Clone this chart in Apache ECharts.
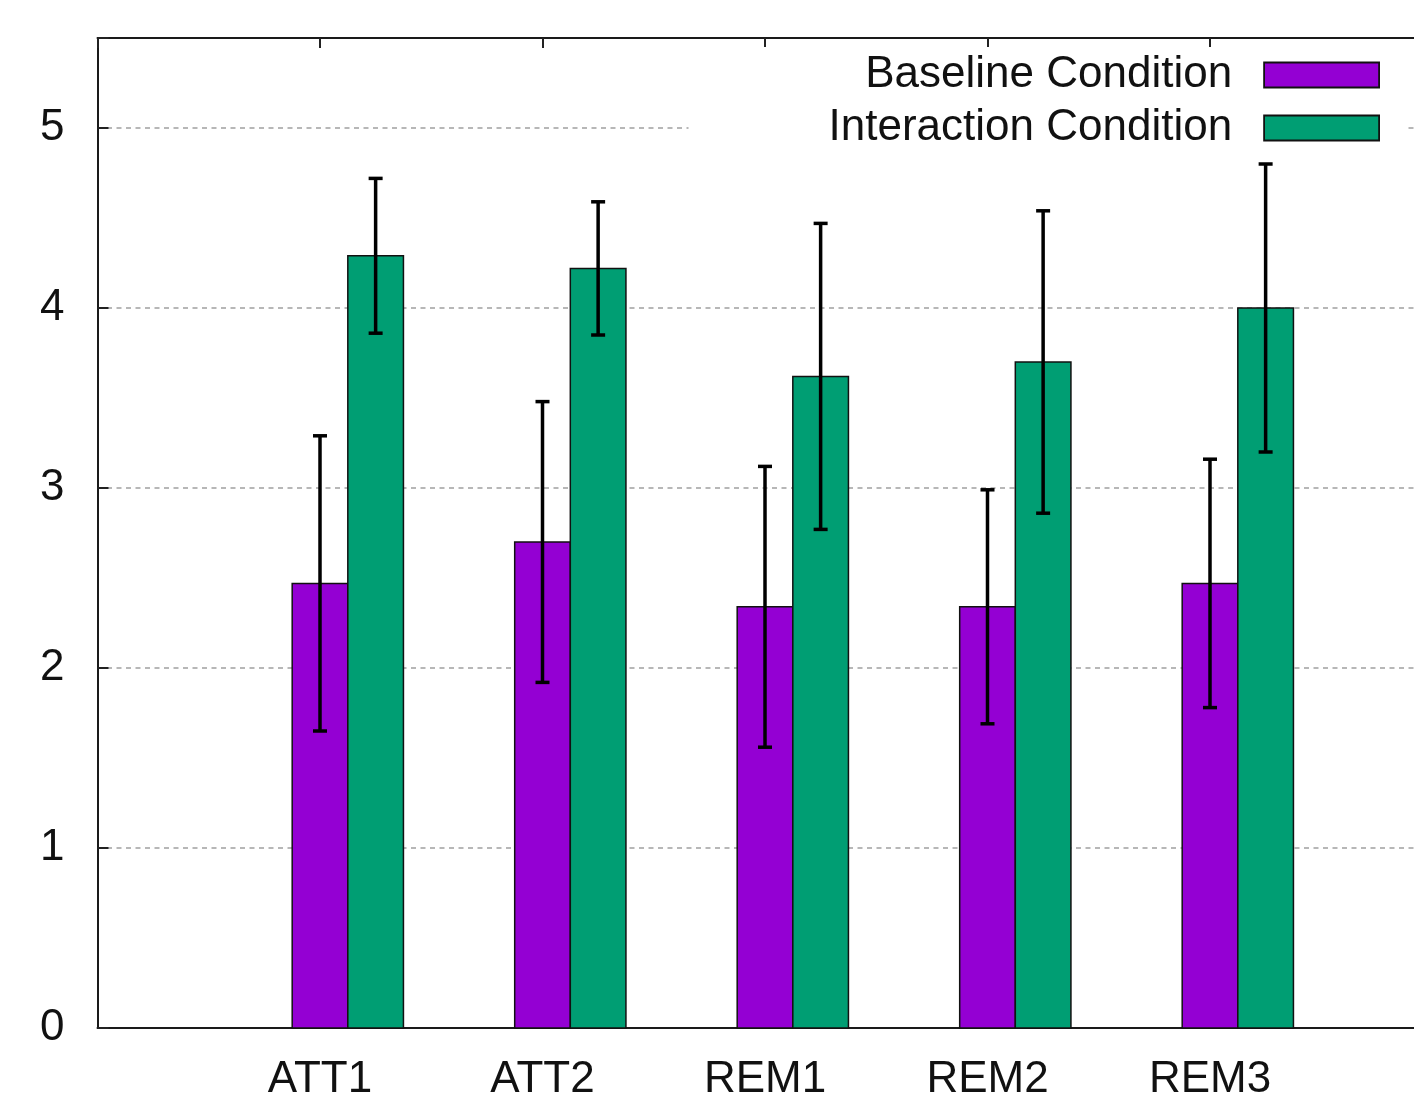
<!DOCTYPE html>
<html>
<head>
<meta charset="utf-8">
<script src="https://cdn.jsdelivr.net/npm/echarts@6/dist/echarts.min.js"></script>
<style>
html,body{margin:0;padding:0;background:#fff;}
#chart{width:1414px;height:1097px;}
</style>
</head>
<body>
<div id="chart"></div>
<script>
// ---- data ----
const categories = ['ATT1', 'ATT2', 'REM1', 'REM2', 'REM3'];
const seriesNames = ['Baseline Condition', 'Interaction Condition'];
const baselineMean = [2.47, 2.70, 2.34, 2.34, 2.47];
const baselineSd = [0.82, 0.78, 0.78, 0.65, 0.69];
const interactionMean = [4.29, 4.22, 3.62, 3.70, 4.00];
const interactionSd = [0.43, 0.37, 0.85, 0.84, 0.80];
const yTicks = [0, 1, 2, 3, 4, 5];

const FONT = "'Liberation Sans', Arial, Helvetica, sans-serif";
const colors = ['#9400D3', '#009E73'];
const BAR_W = 0.25;      // bar width in x units
const offsets = [0, 0.25];

function buildData(means, sds, off) {
  return means.map((m, i) => [i + 1 + off, m, sds[i]]);
}

function makeRender(color) {
  return function (params, api) {
    const x = api.value(0), v = api.value(1), sd = api.value(2);
    const tl = api.coord([x - BAR_W / 2, v]);
    const br = api.coord([x + BAR_W / 2, 0]);
    const top = api.coord([x, v + sd]);
    const bot = api.coord([x, v - sd]);
    const cap = 7;
    const lineStyle = { stroke: '#000', lineWidth: 3.5 };
    return {
      type: 'group',
      children: [
        { type: 'rect', shape: { x: tl[0], y: tl[1], width: br[0] - tl[0], height: br[1] - tl[1] },
          style: { fill: color, stroke: '#111', lineWidth: 1.5 } },
        { type: 'line', shape: { x1: top[0], y1: top[1], x2: bot[0], y2: bot[1] }, style: lineStyle },
        { type: 'line', shape: { x1: top[0] - cap, y1: top[1], x2: top[0] + cap, y2: top[1] }, style: lineStyle },
        { type: 'line', shape: { x1: bot[0] - cap, y1: bot[1], x2: bot[0] + cap, y2: bot[1] }, style: lineStyle }
      ]
    };
  };
}

const chart = echarts.init(document.getElementById('chart'), null, { renderer: 'canvas' });

const axisLine = { show: true, lineStyle: { color: '#1a1a1a', width: 2 } };

const option = {
  animation: false,
  backgroundColor: '#fff',
  textStyle: { fontFamily: FONT },
  grid: { left: 97.5, right: -18.5, top: 38, bottom: 69, containLabel: false, outerBoundsMode: 'none' },
  legend: {
    data: seriesNames,
    orient: 'vertical',
    align: 'right',
    right: 8,
    top: 47,
    padding: [6, 26, 6, 140],
    backgroundColor: '#fff',
    itemGap: 9,
    itemWidth: 115,
    itemHeight: 25,
    icon: 'rect',
    itemStyle: { borderColor: '#111', borderWidth: 1.8 },
    textStyle: { fontSize: 44, lineHeight: 44, color: '#111', fontFamily: FONT, padding: [0, 27, 0, 0] }
  },
  xAxis: [
    {
      type: 'value', position: 'bottom', min: 0, max: 6, interval: 1,
      axisLine: axisLine,
      axisTick: { show: false },
      splitLine: { show: false },
      axisLabel: {
        fontSize: 44, color: '#111', fontFamily: FONT, margin: 30,
        formatter: v => categories[v - 1] || ''
      }
    },
    {
      type: 'value', position: 'top', min: 0, max: 6, interval: 1,
      axisLine: axisLine,
      axisTick: { show: true, inside: true, length: 10, lineStyle: { color: '#222', width: 2 } },
      splitLine: { show: false },
      axisLabel: { show: false }
    }
  ],
  yAxis: {
    type: 'value', min: 0, max: 5.5, interval: 1,
    axisLine: axisLine,
    axisTick: { show: true, inside: true, length: 11, lineStyle: { color: '#222', width: 2 } },
    splitLine: { show: true, lineStyle: { color: '#a0a0a0', width: 1.5, type: [5, 4.5] } },
    axisLabel: {
      fontSize: 44, color: '#111', fontFamily: FONT, margin: 33,
      formatter: v => (yTicks.indexOf(v) >= 0 ? String(v) : '')
    }
  },
  series: [
    {
      name: seriesNames[0], type: 'custom', xAxisIndex: 0,
      itemStyle: { color: colors[0], borderColor: '#111', borderWidth: 1.5 },
      renderItem: makeRender(colors[0]),
      encode: { x: 0, y: 1 },
      data: buildData(baselineMean, baselineSd, offsets[0])
    },
    {
      name: seriesNames[1], type: 'custom', xAxisIndex: 0,
      itemStyle: { color: colors[1], borderColor: '#111', borderWidth: 1.5 },
      renderItem: makeRender(colors[1]),
      encode: { x: 0, y: 1 },
      data: buildData(interactionMean, interactionSd, offsets[1])
    }
  ]
};
chart.setOption(option);
</script>
</body>
</html>
